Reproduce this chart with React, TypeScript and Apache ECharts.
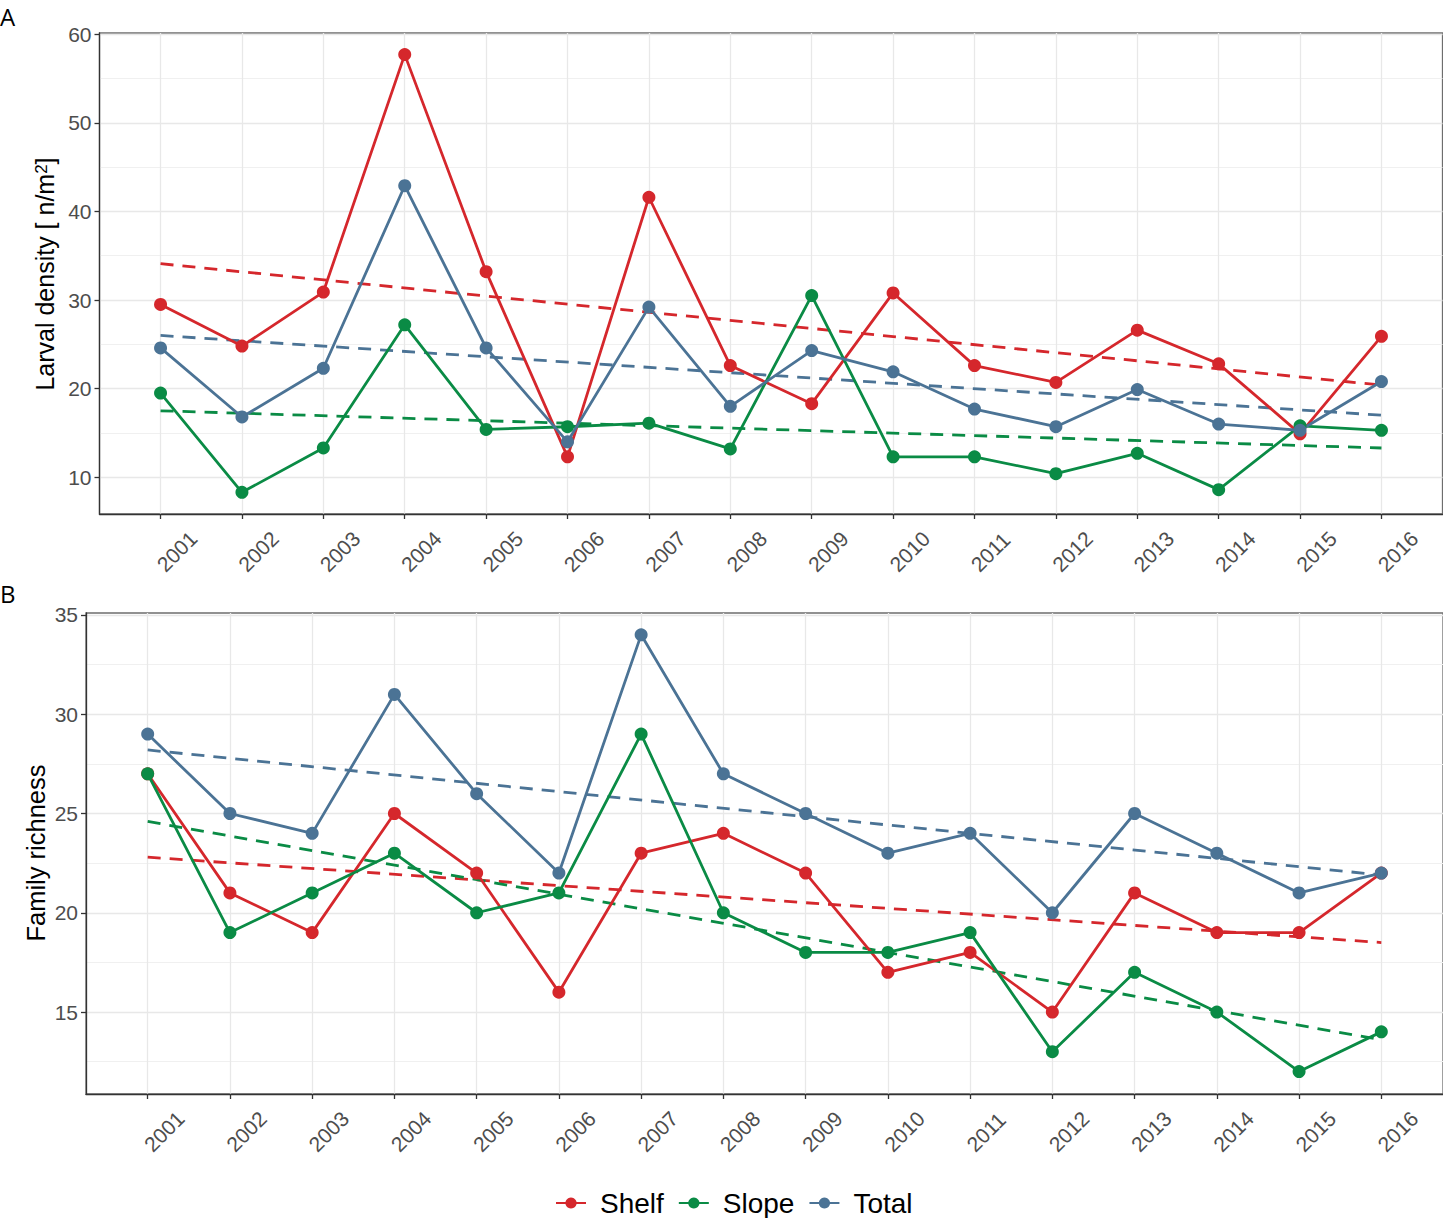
import React, { useEffect, useRef } from "react";
import * as echarts from "echarts";

const years = [2001, 2002, 2003, 2004, 2005, 2006, 2007, 2008, 2009, 2010, 2011, 2012, 2013, 2014, 2015, 2016];

const shelfDensity = [29.5, 24.8, 30.9, 57.7, 33.2, 12.3, 41.6, 22.6, 18.3, 30.8, 22.6, 20.7, 26.6, 22.8, 14.9, 25.9];
const slopeDensity = [19.5, 8.3, 13.3, 27.2, 15.4, 15.7, 16.1, 13.2, 30.5, 12.3, 12.3, 10.4, 12.7, 8.6, 15.8, 15.3];
const totalDensity = [24.6, 16.8, 22.3, 42.9, 24.6, 14.0, 29.2, 18.0, 24.3, 21.9, 17.7, 15.7, 19.9, 16.0, 15.3, 20.8];

const shelfRichness = [27, 21, 19, 25, 22, 16, 23, 24, 22, 17, 18, 15, 21, 19, 19, 22];
const slopeRichness = [27, 19, 21, 23, 20, 21, 29, 20, 18, 18, 19, 13, 17, 15, 12, 14];
const totalRichness = [29, 25, 24, 31, 26, 22, 34, 27, 25, 23, 24, 20, 25, 23, 21, 22];

const trendYears = [2001, 2016];
const shelfDensityTrend = [34.1, 20.4];
const slopeDensityTrend = [17.5, 13.3];
const totalDensityTrend = [26.0, 17.0];
const shelfRichnessTrend = [22.8, 18.5];
const slopeRichnessTrend = [24.6, 13.6];
const totalRichnessTrend = [28.2, 21.9];

const densityTicks = [10, 20, 30, 40, 50, 60];
const densityMinorTicks = [15, 25, 35, 45, 55];
const richnessTicks = [15, 20, 25, 30, 35];
const richnessMinorTicks = [12.5, 17.5, 22.5, 27.5, 32.5];

const legendNames = ["Shelf", "Slope", "Total"];

const RED = "#D5272C";
const GREEN = "#0A8B45";
const BLUE = "#4B7395";
const GRID_COLOR = "#E8E8E8";
const AXIS_COLOR = "#333333";
const FONT = "Liberation Sans";

const pairs = (xs: number[], ys: number[]) => xs.map((x, i) => [x, ys[i]]);

function xAxisFor(gridIndex: number) {
  return {
    type: "value",
    gridIndex,
    min: 2000.25,
    max: 2016.75,
    axisLine: { show: true, onZero: false, lineStyle: { color: AXIS_COLOR, width: 1.3 } },
    axisTick: { show: true, customValues: years, length: 5, lineStyle: { color: AXIS_COLOR, width: 1.3 } },
    axisLabel: {
      customValues: years,
      rotate: 45,
      align: "left",
      verticalAlign: "middle",
      margin: 54,
      fontSize: 21,
      color: "#4D4D4D",
      fontFamily: FONT,
      formatter: (v: number) => String(v),
    },
    splitLine: { show: true, lineStyle: { color: GRID_COLOR, width: 1.3 } },
  };
}

function yAxisFor(gridIndex: number, min: number, max: number, ticks: number[]) {
  return {
    type: "value",
    gridIndex,
    min,
    max,
    axisLine: { show: true, onZero: false, lineStyle: { color: AXIS_COLOR, width: 1.3 } },
    axisTick: { show: true, customValues: ticks, length: 5, lineStyle: { color: AXIS_COLOR, width: 1.3 } },
    axisLabel: {
      customValues: ticks,
      margin: 8,
      fontSize: 21,
      color: "#4D4D4D",
      fontFamily: FONT,
      formatter: (v: number) => String(v),
    },
    splitLine: { show: true, lineStyle: { color: GRID_COLOR, width: 1.3 } },
  };
}

function minorYAxisFor(gridIndex: number, min: number, max: number, ticks: number[]) {
  return {
    type: "value",
    gridIndex,
    min,
    max,
    position: "left",
    axisLine: { show: false },
    axisTick: { show: false, customValues: ticks },
    axisLabel: { show: false, customValues: ticks },
    splitLine: { show: true, lineStyle: { color: "#F0F0F0", width: 1 } },
    z: 0,
  };
}

function pointSeries(name: string, color: string, xi: number, yi: number, values: number[]) {
  return {
    name,
    type: "line",
    xAxisIndex: xi,
    yAxisIndex: yi,
    data: pairs(years, values),
    symbol: "circle",
    symbolSize: 13,
    showSymbol: true,
    itemStyle: { color },
    lineStyle: { color, width: 2.8 },
    z: 3,
  };
}

function trendSeries(name: string, color: string, xi: number, yi: number, values: number[]) {
  return {
    name,
    type: "line",
    xAxisIndex: xi,
    yAxisIndex: yi,
    data: pairs(trendYears, values),
    symbol: "none",
    itemStyle: { color },
    lineStyle: { color, width: 2.8, type: [13, 9] },
    z: 2,
  };
}

export default function App() {
  const ref = useRef<HTMLDivElement>(null);

  useEffect(() => {
    if (!ref.current) return;
    const chart = echarts.init(ref.current, undefined, { renderer: "svg" });
    const option = {
      animation: false,
      backgroundColor: "#FFFFFF",
      textStyle: { fontFamily: FONT },
      grid: [
        { left: 99.5, top: 33, width: 1343, height: 481, show: true, borderColor: "#6E6E6E", borderWidth: 1.3, containLabel: false, outerBoundsMode: "none" },
        { left: 86, top: 613, width: 1357, height: 481, show: true, borderColor: "#6E6E6E", borderWidth: 1.3, containLabel: false, outerBoundsMode: "none" },
      ],
      xAxis: [xAxisFor(0), xAxisFor(1)],
      yAxis: [
        yAxisFor(0, 5.85, 60.14, densityTicks),
        yAxisFor(1, 10.87, 35.1, richnessTicks),
        minorYAxisFor(0, 5.85, 60.14, densityMinorTicks),
        minorYAxisFor(1, 10.87, 35.1, richnessMinorTicks),
      ],
      legend: {
        data: legendNames,
        left: 555,
        top: 1189,
        padding: 0,
        itemWidth: 30,
        itemHeight: 14,
        itemGap: 14,
        textStyle: { fontSize: 28, color: "#000000", fontFamily: FONT, padding: [0, 0, 0, 9] },
      },
      graphic: [
        { type: "text", x: 0, y: 16, style: { text: "A", fontSize: 24, fontFamily: "Open Sans", fill: "#000", align: "left", verticalAlign: "middle" } },
        { type: "text", x: 0, y: 593, style: { text: "B", fontSize: 24, fontFamily: "Open Sans", fill: "#000", align: "left", verticalAlign: "middle" } },
        {
          type: "text",
          x: 45,
          y: 274,
          rotation: Math.PI / 2,
          style: {
            text: "Larval density [ n/m{sup|2}]",
            fontSize: 25,
            fontFamily: FONT,
            fill: "#000",
            align: "center",
            verticalAlign: "middle",
            rich: { sup: { fontSize: 17, fontFamily: FONT, fill: "#000", verticalAlign: "top" } },
          },
        },
        {
          type: "text",
          x: 36,
          y: 853,
          rotation: Math.PI / 2,
          style: { text: "Family richness", fontSize: 25.5, fontFamily: FONT, fill: "#000", align: "center", verticalAlign: "middle" },
        },
      ],
      series: [
        trendSeries("Shelf trend", RED, 0, 0, shelfDensityTrend),
        trendSeries("Slope trend", GREEN, 0, 0, slopeDensityTrend),
        trendSeries("Total trend", BLUE, 0, 0, totalDensityTrend),
        pointSeries("Shelf", RED, 0, 0, shelfDensity),
        pointSeries("Slope", GREEN, 0, 0, slopeDensity),
        pointSeries("Total", BLUE, 0, 0, totalDensity),
        trendSeries("Shelf trend", RED, 1, 1, shelfRichnessTrend),
        trendSeries("Slope trend", GREEN, 1, 1, slopeRichnessTrend),
        trendSeries("Total trend", BLUE, 1, 1, totalRichnessTrend),
        pointSeries("Shelf", RED, 1, 1, shelfRichness),
        pointSeries("Slope", GREEN, 1, 1, slopeRichness),
        pointSeries("Total", BLUE, 1, 1, totalRichness),
      ],
    };
    chart.setOption(option as any);
    return () => chart.dispose();
  }, []);

  return (
    <div
      ref={ref}
      style={{ position: "absolute", left: 0, top: 0, width: 1443, height: 1218, background: "#fff" }}
    />
  );
}
